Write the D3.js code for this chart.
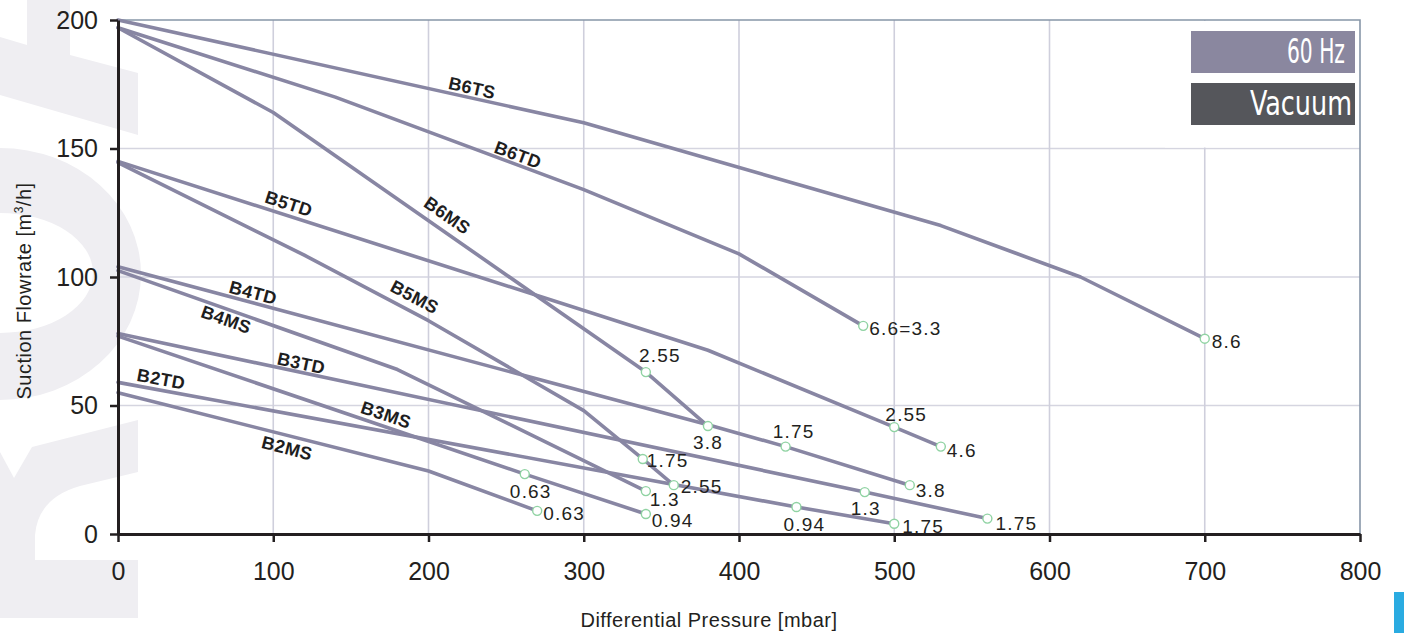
<!DOCTYPE html>
<html>
<head>
<meta charset="utf-8">
<script src="https://d3js.org/d3.v7.min.js"></script>
<style>
  body { margin: 0; background: #fff; }
  svg { display: block; font-family: "Liberation Sans", Arial, sans-serif; }
  .axis text { font-size: 25px; fill: #231f20; }
  .axis path, .axis line { stroke: #231f20; }
  .curve-label { font-size: 18px; font-weight: bold; fill: #1e1e1e; letter-spacing: 0.4px; }
  .point-label { font-size: 19px; fill: #231f20; letter-spacing: 1.2px; }
  .axis-title { font-size: 20px; fill: #231f20; letter-spacing: 0.5px; }
</style>
</head>
<body>
<div id="chart"></div>
<script>
// curves: [differential pressure (mbar), suction flowrate (m3/h)]
const seriesNames = ["B6TS", "B6TD", "B6MS", "B5TD", "B5MS", "B4TD", "B4MS", "B3TD", "B3MS", "B2TD", "B2MS"];
const b6ts = [[0, 200], [300, 160], [530, 120], [620, 100], [700, 76]];
const b6td = [[0, 197], [140, 170], [300, 134], [400, 109], [480, 81]];
const b6ms = [[0, 197], [100, 164], [340, 63], [380, 42]];
const b5td = [[0, 145], [380, 71.5], [500, 41.6], [530, 34]];
const b5ms = [[0, 144.5], [120, 108.5], [200, 83], [300, 48], [338, 29.2], [358, 19]];
const b4td = [[0, 104], [380, 42.5], [430, 34], [510, 19]];
const b4ms = [[0, 102.5], [180, 64], [340, 16.7]];
const b3td = [[0, 78], [481, 16.3], [560, 6]];
const b3ms = [[0, 77], [262, 23.3], [340, 7.8]];
const b2td = [[0, 59], [437, 10.5], [500, 4]];
const b2ms = [[0, 55], [200, 24.5], [270, 9]];
const seriesValues = [b6ts, b6td, b6ms, b5td, b5ms, b4td, b4ms, b3td, b3ms, b2td, b2ms];

// marked points: [series, point index, label]
const markers = [
  ["B6TS", 4, "8.6"],
  ["B6TD", 4, "6.6=3.3"],
  ["B6MS", 2, "2.55"], ["B6MS", 3, "3.8"],
  ["B5TD", 2, "2.55"], ["B5TD", 3, "4.6"],
  ["B5MS", 4, "1.75"], ["B5MS", 5, "2.55"],
  ["B4TD", 2, "1.75"], ["B4TD", 3, "3.8"],
  ["B4MS", 2, "1.3"],
  ["B3TD", 1, "1.3"], ["B3TD", 2, "1.75"],
  ["B3MS", 1, "0.63"], ["B3MS", 2, "0.94"],
  ["B2TD", 1, "0.94"], ["B2TD", 2, "1.75"],
  ["B2MS", 2, "0.63"]
];

const xTicks = [0, 100, 200, 300, 400, 500, 600, 700, 800];
const yTicks = [0, 50, 100, 150, 200];
const legendTexts = ["60 Hz", "Vacuum"];

// label placement (layout only)
const markerPlace = [
  ["start", 7, 9], ["start", 6, 9],
  ["middle", 14, -10], ["middle", 0, 23],
  ["middle", 12, -6], ["start", 6, 10],
  ["start", 4, 8], ["start", 7, 8],
  ["middle", 8, -9], ["start", 6, 12],
  ["start", 4, 15],
  ["middle", 1, 23], ["start", 8, 11],
  ["middle", 6, 24], ["start", 6, 13],
  ["middle", 8, 24], ["start", 8, 9],
  ["start", 6, 9]
];
const curveLabelAt = [228, 257.6, 212, 110, 191, 87, 69.6, 118, 172.6, 27.7, 108.9];
const curveLabelDy = [-10, -10, -18, -12, -16, -10, 11, -9, -12, -11, 13];

const W = 1404, H = 636;
const svg = d3.select("#chart").append("svg").attr("width", W).attr("height", H);

const x = d3.scaleLinear().domain([0, 800]).range([118, 1360]);
const y = d3.scaleLinear().domain([0, 200]).range([534, 20]);

// faint logo watermark on the left
const wm = svg.append("g").attr("fill", "#efeef2");
wm.append("path").attr("d", "M0,37 L27,45 L27,0 L70,0 L70,55 L138,73 L138,135 L0,95 Z");
wm.append("path").attr("fill-rule", "evenodd")
  .attr("d", "M0,148 A141,126 0 0 1 0,400 Z M0,213 A93,60 0 0 1 0,333 Z");
wm.append("path").attr("d", "M0,618 L138,618 L138,560 L35,560 L35,535 Q38,498 80,486 L138,472 L138,420 L32,447 L14,478 L0,452 Z");

// grid
const grid = svg.append("g");
grid.selectAll(".gy").data(yTicks.filter(d => d > 0 && d < 200)).enter().append("line")
  .attr("x1", x(0)).attr("x2", x(800)).attr("y1", d => y(d)).attr("y2", d => y(d))
  .attr("stroke", "#d5d5e0").attr("stroke-width", 1.6);
grid.selectAll(".gx").data(xTicks.filter(d => d > 0 && d < 800)).enter().append("line")
  .attr("x1", d => x(d)).attr("x2", d => x(d)).attr("y1", y(200)).attr("y2", y(0))
  .attr("stroke", "#cfcfdc").attr("stroke-width", 1.6);

// white backing behind the legend
svg.append("rect").attr("x", 1165).attr("y", y(200) + 1).attr("width", x(800) - 1166)
  .attr("height", y(150) - y(200) - 2).attr("fill", "#fff");

// plot border (top and right)
svg.append("path")
  .attr("d", `M${x(0)},${y(200)} H${x(800)} V${y(0)}`)
  .attr("fill", "none").attr("stroke", "#8796a8").attr("stroke-width", 1.6);

// curves
const line = d3.line().x(d => x(d[0])).y(d => y(d[1]));
svg.append("g").selectAll("path").data(seriesValues).enter().append("path")
  .attr("d", line).attr("fill", "none").attr("stroke", "#8886a3")
  .attr("stroke-width", 3.6).attr("stroke-linejoin", "round").attr("stroke-linecap", "round");

// curve name labels, rotated along the curve
function pointAt(pts, xv) {
  for (let i = 1; i < pts.length; i++) {
    if (xv <= pts[i][0]) {
      const [x0, y0] = pts[i - 1], [x1, y1] = pts[i];
      const t = (xv - x0) / (x1 - x0);
      const ang = Math.atan2(y(y1) - y(y0), x(x1) - x(x0)) * 180 / Math.PI;
      return [x(xv), y(y0 + t * (y1 - y0)), ang];
    }
  }
}
svg.append("g").selectAll("text").data(seriesNames).enter().append("text")
  .attr("class", "curve-label")
  .attr("text-anchor", "middle")
  .attr("dominant-baseline", "central")
  .attr("transform", (d, i) => {
    const [px, py, a] = pointAt(seriesValues[i], curveLabelAt[i]);
    return `translate(${px},${py + curveLabelDy[i]}) rotate(${a})`;
  })
  .text(d => d);

// marked points
const markerPts = markers.map(m => seriesValues[seriesNames.indexOf(m[0])][m[1]]);
svg.append("g").selectAll("circle").data(markerPts).enter().append("circle")
  .attr("cx", d => x(d[0])).attr("cy", d => y(d[1])).attr("r", 4.5)
  .attr("fill", "#fff").attr("stroke", "#90d3a3").attr("stroke-width", 1.4);
svg.append("g").selectAll("text").data(markers).enter().append("text")
  .attr("class", "point-label")
  .attr("text-anchor", (d, i) => markerPlace[i][0])
  .attr("x", (d, i) => x(markerPts[i][0]) + markerPlace[i][1])
  .attr("y", (d, i) => y(markerPts[i][1]) + markerPlace[i][2])
  .text(d => d[2]);

// axes
const yAxis = svg.append("g").attr("class", "axis")
  .attr("transform", `translate(${x(0)},0)`)
  .call(d3.axisLeft(y).tickValues(yTicks).tickSize(8).tickSizeOuter(0).tickPadding(12));
const xAxis = svg.append("g").attr("class", "axis")
  .attr("transform", `translate(0,${y(0)})`)
  .call(d3.axisBottom(x).tickValues(xTicks).tickSize(8).tickSizeOuter(0).tickPadding(20));
svg.selectAll(".axis path").attr("stroke-width", 3);
svg.selectAll(".axis line").attr("stroke-width", 2.5);
svg.selectAll(".axis text").attr("font-family", null);
svg.selectAll(".axis").attr("font-family", null).attr("font-size", null);

// axis titles
svg.append("text").attr("class", "axis-title")
  .attr("x", 709).attr("y", 627).attr("text-anchor", "middle")
  .text("Differential Pressure [mbar]");
const yt = svg.append("text").attr("class", "axis-title")
  .attr("text-anchor", "middle")
  .attr("transform", "translate(31,291) rotate(-90)");
yt.append("tspan").text("Suction Flowrate [m");
yt.append("tspan").attr("dy", -8).attr("font-size", 12).text("3");
yt.append("tspan").attr("dy", 8).text("/h]");

// legend boxes
const legendFill = ["#8a879f", "#55565b"];
const legendW = [58, 102];
const lg = svg.append("g").selectAll("g").data(legendTexts).enter().append("g");
lg.append("rect").attr("x", 1191).attr("y", (d, i) => 31 + i * 52)
  .attr("width", 164).attr("height", 42).attr("fill", (d, i) => legendFill[i]);
lg.append("text")
  .attr("x", (d, i) => i === 0 ? 1345 : 1352)
  .attr("y", (d, i) => 63 + i * 52)
  .attr("text-anchor", "end")
  .attr("fill", "#fff")
  .attr("font-family", "'Liberation Sans Narrow', 'DejaVu Sans Condensed', sans-serif")
  .attr("font-size", 33)
  .attr("textLength", (d, i) => legendW[i])
  .attr("lengthAdjust", "spacingAndGlyphs")
  .text(d => d);

// small blue tab at the bottom-right edge
svg.append("rect").attr("x", 1394).attr("y", 592).attr("width", 10).attr("height", 41).attr("fill", "#2aabe1");
</script>
</body>
</html>
